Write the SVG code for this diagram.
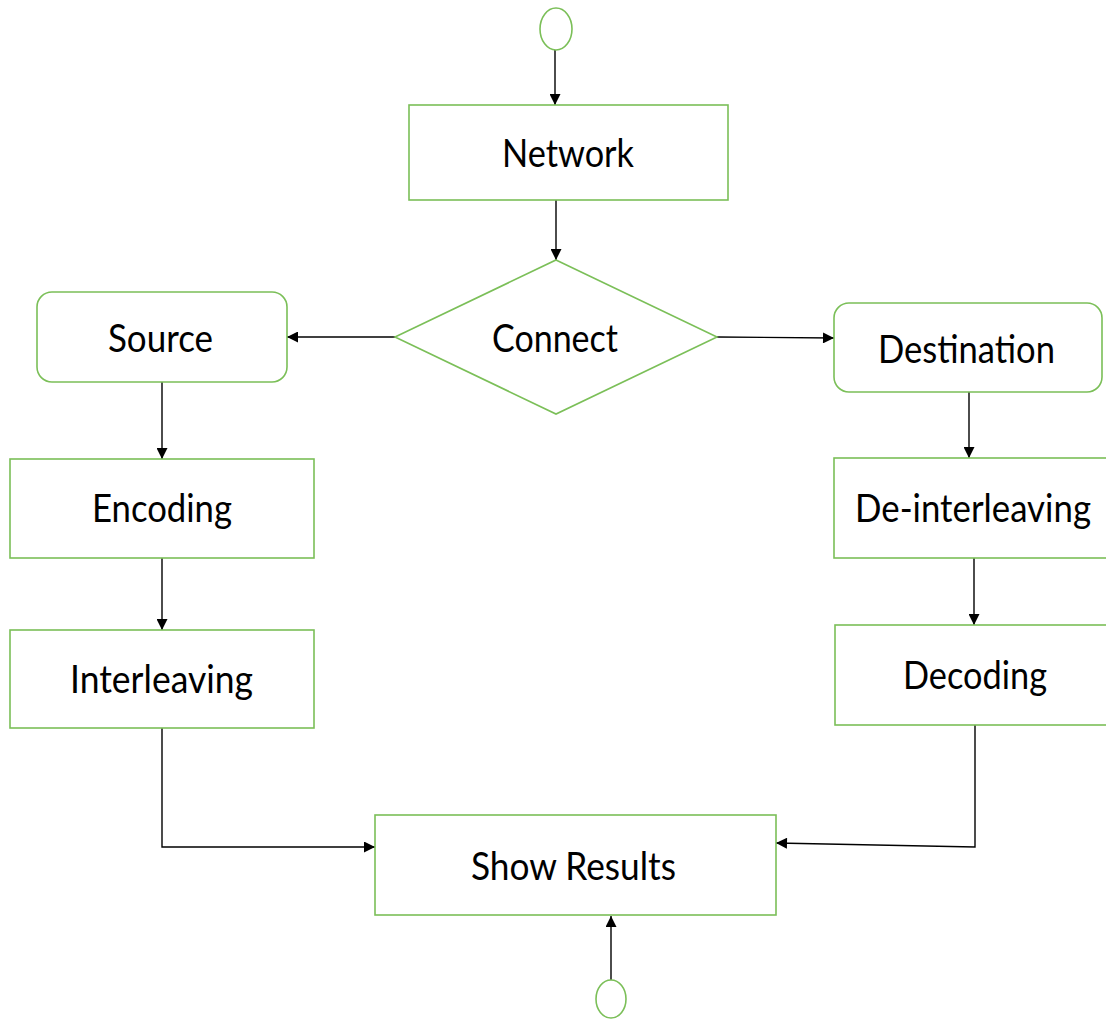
<svg xmlns="http://www.w3.org/2000/svg" width="1106" height="1019" viewBox="0 0 1106 1019">
<style>
.box{fill:#fff;stroke:#7BBF58;stroke-width:1.6}
.lbl{font-family:Lato,"Liberation Sans",sans-serif;font-size:39px;fill:#000;text-anchor:middle}
.con{fill:none;stroke:#000;stroke-width:1.4}
</style>
<defs>
<marker id="ah" viewBox="0 0 10 10" refX="10" refY="5" markerWidth="12" markerHeight="11" markerUnits="userSpaceOnUse" orient="auto">
<path d="M0,0 L10,5 L0,10 z" fill="#000"/>
</marker>
</defs>
<rect width="1106" height="1019" fill="#fff"/>
<g id="connectors">
<path class="con" d="M555,50 L555,105" marker-end="url(#ah)"/>
<path class="con" d="M556,200 L556,260" marker-end="url(#ah)"/>
<path class="con" d="M395,337 L287,337" marker-end="url(#ah)"/>
<path class="con" d="M717,337 L834,338" marker-end="url(#ah)"/>
<path class="con" d="M162,382 L162,459" marker-end="url(#ah)"/>
<path class="con" d="M162,558 L162,630" marker-end="url(#ah)"/>
<path class="con" d="M969,392 L969,458" marker-end="url(#ah)"/>
<path class="con" d="M974,558 L974,625" marker-end="url(#ah)"/>
<path class="con" d="M162,728 L162,847 L375,847" marker-end="url(#ah)"/>
<path class="con" d="M975,725 L975,847 L776,843" marker-end="url(#ah)"/>
<path class="con" d="M611,980 L611,916" marker-end="url(#ah)"/>
</g>
<g id="start"><ellipse class="box" cx="556" cy="29" rx="16" ry="21"/></g>
<g id="network"><rect class="box" x="409" y="105" width="319" height="95"/><text class="lbl" x="568" y="167" textLength="132" lengthAdjust="spacingAndGlyphs">Network</text></g>
<g id="connect"><polygon class="box" points="556,260 717,337 556,414 395,337"/><text class="lbl" x="555" y="352" textLength="126" lengthAdjust="spacingAndGlyphs">Connect</text></g>
<g id="source"><rect class="box" x="37" y="292" width="250" height="90" rx="15"/><text class="lbl" x="160.5" y="352" textLength="105" lengthAdjust="spacingAndGlyphs">Source</text></g>
<g id="encoding"><rect class="box" x="10" y="459" width="304" height="99"/><text class="lbl" x="162" y="522" textLength="140" lengthAdjust="spacingAndGlyphs">Encoding</text></g>
<g id="interleaving"><rect class="box" x="10" y="630" width="304" height="98"/><text class="lbl" x="161.5" y="693" textLength="183" lengthAdjust="spacingAndGlyphs">Interleaving</text></g>
<g id="destination"><rect class="box" x="834" y="303" width="268" height="89" rx="15"/><text class="lbl" x="966.5" y="363" textLength="177" lengthAdjust="spacingAndGlyphs">Destination</text></g>
<g id="deinterleaving"><rect class="box" x="834" y="458" width="280" height="100"/><text class="lbl" x="973" y="522" textLength="236" lengthAdjust="spacingAndGlyphs">De-interleaving</text></g>
<g id="decoding"><rect class="box" x="835" y="625" width="280" height="100"/><text class="lbl" x="975" y="689" textLength="144" lengthAdjust="spacingAndGlyphs">Decoding</text></g>
<g id="showresults"><rect class="box" x="375" y="815" width="401" height="100"/><text class="lbl" x="573.5" y="880" textLength="205" lengthAdjust="spacingAndGlyphs">Show Results</text></g>
<g id="end"><ellipse class="box" cx="611" cy="999" rx="15" ry="19"/></g>
</svg>
